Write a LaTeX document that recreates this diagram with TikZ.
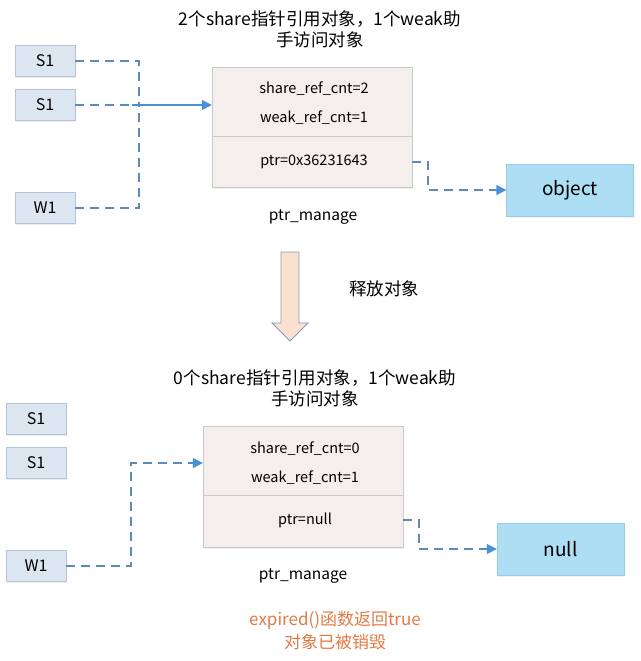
\documentclass[tikz,border=0pt]{standalone}
\usepackage{fontspec}
\setmainfont{Noto Sans CJK SC}
\usetikzlibrary{arrows.meta,positioning,shadows}
\definecolor{sfill}{HTML}{DCE6F1}
\definecolor{sdraw}{HTML}{B4C3D6}
\definecolor{mfill}{HTML}{F4EFED}
\definecolor{mdraw}{HTML}{CACACA}
\definecolor{ofill}{HTML}{AEDEF4}
\definecolor{odraw}{HTML}{96CCE6}
\definecolor{lcol}{HTML}{5D8AB8}
\definecolor{acol}{HTML}{4A90D9}
\definecolor{dfill}{HTML}{FBE0D0}
\definecolor{ddraw}{HTML}{7F9CC0}
\definecolor{ocol}{HTML}{E07B45}

\begin{document}
\begin{tikzpicture}[x=1pt,y=-1pt,>={Triangle[width=10pt,length=10pt,color=acol]},
    font=\fontsize{14.5}{16}\selectfont,
    sbox/.style={draw=sdraw,fill=sfill,minimum width=60pt,minimum height=31pt,
        font=\fontsize{16}{18}\selectfont,
        drop shadow={shadow xshift=1pt,shadow yshift=-1.5pt,opacity=0.15}},
    mgrbox/.style={draw=mdraw,fill=mfill,minimum width=200pt,minimum height=120pt,
        drop shadow={shadow xshift=1pt,shadow yshift=-1.5pt,opacity=0.12}},
    tgtbox/.style={draw=odraw,fill=ofill,minimum width=127pt,minimum height=52pt,
        font=\fontsize{19}{21}\selectfont,
        drop shadow={shadow xshift=1pt,shadow yshift=-1.5pt,opacity=0.12}},
    link/.style={lcol,line width=1.4pt,dash pattern=on 9pt off 6pt},
    solidlink/.style={acol,line width=1.5pt},
    title/.style={align=center,font=\fontsize{17.5}{21}\selectfont}]
    \useasboundingbox (0,0) rectangle (640,661);

    % before release
    \node[title] (ta) at (320,29) {2个share指针引用对象，1个weak助\\手访问对象};
    \node[sbox] (sa) at (45,61) {S1};
    \node[sbox] (sb) at (45,105) {S1};
    \node[sbox] (wa) at (45,208) {W1};
    \node[mgrbox] (ma) at (312,127) {};
    \draw[mdraw] ([yshift=-9pt]ma.west) -- ([yshift=-9pt]ma.east);
    \node (ca) at (314,89) {share\_ref\_cnt=2};
    \node (da) at (314,118) {weak\_ref\_cnt=1};
    \node (pa) at (314,162) {ptr=0x36231643};
    \node[font=\fontsize{15.5}{17}\selectfont] (na) at (313,217) {ptr\_manage};
    \node[tgtbox] (oa) at (570,190) {object};
    \coordinate (ja) at (139,105);
    \coordinate (jb) at (132,105);
    \coordinate (ka) at (428,190);
    \draw[link] (sa.east) -| (ja);
    \draw[link] (wa.east) -| (ja);
    \draw[link] (sb.east) -- (jb);
    \draw[solidlink,->] (jb) -- (ma.west |- jb);
    \draw[link,->] (ma.east |- pa) -| (ka) -- (oa.west);

    % release
    \filldraw[fill=dfill,draw=ddraw,line width=0.8pt]
        (281,252) -- (299,252) -- (299,323) -- (308,323) -- (290,341)
        -- (272,323) -- (281,323) -- cycle;
    \node[font=\fontsize{17.5}{20}\selectfont] (ra) at (384,289) {释放对象};

    % after release
    \node[title] (tb) at (315,388) {0个share指针引用对象，1个weak助\\手访问对象};
    \node[sbox] (sc) at (36,419) {S1};
    \node[sbox] (sd) at (36,463) {S1};
    \node[sbox] (wb) at (36,566) {W1};
    \node[mgrbox,minimum height=121pt] (mb) at (303,486.5) {};
    \draw[mdraw] ([yshift=-8.5pt]mb.west) -- ([yshift=-8.5pt]mb.east);
    \node (cb) at (305,449) {share\_ref\_cnt=0};
    \node (db) at (305,478) {weak\_ref\_cnt=1};
    \node (pb) at (305,520) {ptr=null};
    \node[font=\fontsize{15.5}{17}\selectfont] (nb) at (303,576) {ptr\_manage};
    \node[tgtbox] (ob) at (560.5,549) {null};
    \coordinate (jc) at (131,463);
    \coordinate (kb) at (419,549);
    \draw[link,->] (wb.east) -| (jc) -- (mb.west |- jc);
    \draw[link,->] (mb.east |- pb) -| (kb) -- (ob.west);
    \node[align=center,text=ocol,font=\fontsize{17}{23}\selectfont] (ea) at (335,631)
        {expired()函数返回true\\对象已被销毁};
\end{tikzpicture}
\end{document}
